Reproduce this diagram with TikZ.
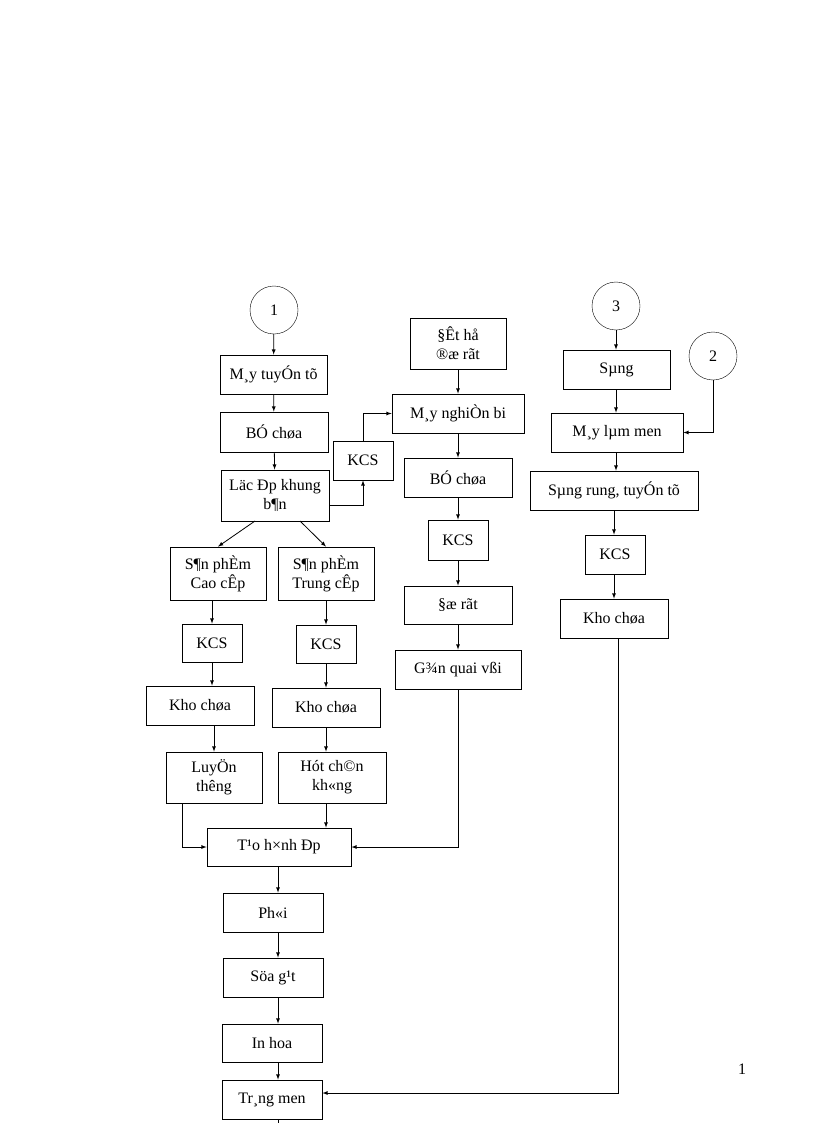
\documentclass[tikz,border=0pt]{standalone}
\usepackage{fontspec}
\setmainfont{Liberation Serif}
\begin{document}
\begin{tikzpicture}[x=1pt,y=-1pt,
  box/.style={draw,thick,inner sep=0pt,align=center,font=\fontsize{16}{19}\selectfont},
  circ/.style={draw,circle,minimum size=48pt,inner sep=0pt,font=\fontsize{16}{19}\selectfont},
  ar/.style={-latex,thick}]
\useasboundingbox (0,0) rectangle (816,1123);
\newcommand{\bx}[7]{\node[box,minimum width=#3-#2,minimum height=#5-#4] (#1) at ({(#2+#3)/2},{(#4+#5)/2}) {#6};}
\bx{a1}{220}{327}{355}{394}{M¸y tuyÓn tõ}{}
\bx{a2}{220}{328}{412}{452}{BÓ chøa}{}
\bx{a3}{221}{329}{470}{521}{Läc Ðp khung\\b¶n}{}
\bx{k0}{333}{393}{441}{480}{KCS}{}
\bx{b1}{410}{506}{318}{369}{§Êt hå\\®æ rãt}{}
\bx{b2}{392}{524}{394}{433}{M¸y nghiÒn bi}{}
\bx{b3}{404}{512}{458}{497}{BÓ chøa}{}
\bx{b4}{428}{488}{520}{560}{KCS}{}
\bx{b5}{404}{512}{586}{624}{§æ rãt}{}
\bx{b6}{395}{521}{650}{689}{G¾n quai vßi}{}
\bx{l1}{170}{266}{547}{600}{S¶n phÈm\\Cao cÊp}{}
\bx{m1}{278}{374}{547}{600}{S¶n phÈm\\Trung cÊp}{}
\bx{l2}{182}{242}{624}{662}{KCS}{}
\bx{m2}{296}{356}{625}{663}{KCS}{}
\bx{l3}{146}{254}{686}{725}{Kho chøa}{}
\bx{m3}{272}{380}{688}{727}{Kho chøa}{}
\bx{l4}{166}{262}{752}{803}{LuyÖn\\thêng}{}
\bx{m4}{278}{386}{752}{803}{Hót ch©n\\kh«ng}{}
\bx{t1}{207}{351}{828}{866}{T¹o h×nh Ðp}{}
\bx{t2}{223}{323}{893}{932}{Ph«i}{}
\bx{t3}{223}{323}{958}{997}{Söa g¹t}{}
\bx{t4}{222}{322}{1024}{1062}{In hoa}{}
\bx{t5}{222}{322}{1080}{1119}{Tr¸ng men}{}
\bx{r1}{563}{670}{350}{389}{Sµng}{}
\bx{r2}{551}{683}{413}{452}{M¸y lµm men}{}
\bx{r3}{530}{698}{471}{510}{Sµng rung, tuyÓn tõ}{}
\bx{r4}{585}{645}{535}{574}{KCS}{}
\bx{r5}{560}{668}{599}{638}{Kho chøa}{}
\node[circ] (c1) at (274,310) {1};
\node[circ] (c3) at (616,306) {3};
\node[circ] (c2) at (713,356) {2};
\node[font=\fontsize{16}{19}\selectfont] (pg) at (742,1069) {1};
\coordinate (bot) at (274,1123);
\coordinate (kc) at (618,1093);
\draw[ar] (c1) -- (a1);
\draw[ar] (a1) -- (a2);
\draw[ar] (a2) -- (a3);
\draw[ar] (a3.east |- 0,505) -| (k0.south);
\draw[ar] (k0.north) |- (b2.west);
\draw[ar] (b1) -- (b2);
\draw[ar] (b2) -- (b3);
\draw[ar] (b3) -- (b4);
\draw[ar] (b4) -- (b5);
\draw[ar] (b5) -- (b6);
\draw[ar] (255,521) -- (l1.north);
\draw[ar] (300,521) -- (m1.north);
\draw[ar] (l1) -- (l2 |- l1.south) -- (l2.north);
\draw[ar] (m1.south) -- (m2.north);
\draw[ar] (l2.south) -- (l3.north -| l2.south);
\draw[ar] (m2.south) -- (m3.north -| m2.south);
\draw[ar] (l3.south -| 214,0) -- (l4.north -| 214,0);
\draw[ar] (m3.south -| 326,0) -- (m4.north -| 326,0);
\draw[ar] (l4.south -| 182,0) |- (t1.west);
\draw[ar] (m4.south -| 326,0) -- (t1.north -| 326,0);
\draw[ar] (b6.south) |- (t1.east);
\draw[ar] (t1.south -| 278,0) -- (t2.north -| 278,0);
\draw[ar] (t2.south -| 278,0) -- (t3.north -| 278,0);
\draw[ar] (t3.south -| 278,0) -- (t4.north -| 278,0);
\draw[ar] (t4.south -| 278,0) -- (t5.north -| 278,0);
\draw[thick] (t5.south -| 278,0) -- (bot -| 278,0);
\draw[ar] (c3) -- (r1.north -| c3);
\draw[ar] (r1.south -| c3) -- (r2.north -| c3);
\draw[ar] (c2.south) |- (r2.east);
\draw[ar] (r2.south -| c3) -- (r3.north -| c3);
\draw[ar] (r3.south -| 614,0) -- (r4.north -| 614,0);
\draw[ar] (r4.south -| 614,0) -- (r5.north -| 614,0);
\draw[ar] (r5.south -| kc) -- (kc) -- (t5.east |- kc);
\end{tikzpicture}
\end{document}
